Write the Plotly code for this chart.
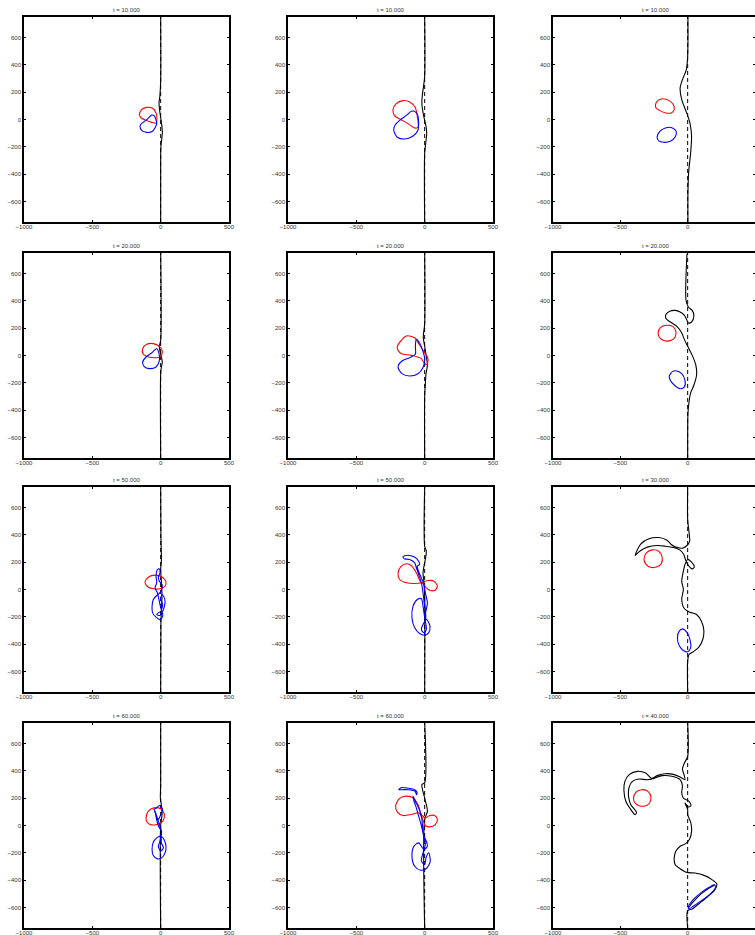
import plotly.graph_objects as go

# ---------------------------------------------------------------------------
# Contour data (x, y) for every panel: interface (black), positive vortex
# patch (red), negative vortex patch (blue).
# ---------------------------------------------------------------------------

# t = 10, left column
iface_1a = [(0, 750), (0, 280), (-6, 170), (-12, 120), (-4, 40), (6, -25), (12, -99), (2, -196), (0, -300), (0, -750)]
red_1a = [(-156, 35), (-139, 72), (-102, 89), (-59, 82), (-34, 48), (-27, 11), (-34, -26), (-66, -21), (-107, -6), (-141, 11), (-156, 35)]
blue_1a = [(-151, -50), (-139, -80), (-102, -94), (-62, -88), (-41, -60), (-29, -30), (-35, 0), (-45, 25), (-66, 33), (-85, 15), (-102, -1), (-125, -18), (-145, -35), (-151, -50)]

# t = 10, middle column
iface_1b = [(0, 750), (0, 316), (-10, 230), (-18, 170), (-20, 110), (-8, 30), (10, -50), (15, -100), (8, -170), (0, -245), (0, -750)]
red_1b = [(-232, 72), (-210, 115), (-159, 138), (-110, 128), (-70, 90), (-55, 30), (-49, -57), (-73, -62), (-122, -30), (-183, 4), (-220, 28), (-232, 72)]
blue_1b = [(-227, -74), (-200, -130), (-146, -143), (-90, -125), (-50, -80), (-44, -26), (-50, 30), (-61, 48), (-80, 62), (-98, 60), (-125, 38), (-150, 18), (-183, -6), (-215, -38), (-227, -74)]

# t = 10, right column
iface_1c = [(2, 750), (0, 462), (-10, 364), (-39, 291), (-56, 230), (-44, 145), (-7, 48), (17, -26), (29, -123), (22, -245), (7, -391), (2, -538), (2, -750)]
red_1c = [(-239, 109), (-220, 140), (-185, 152), (-141, 140), (-107, 109), (-100, 72), (-122, 48), (-161, 48), (-207, 65), (-234, 84), (-239, 109)]
blue_1c = [(-227, -128), (-207, -87), (-166, -62), (-117, -60), (-85, -87), (-93, -128), (-129, -160), (-178, -167), (-215, -157), (-227, -128)]

# t = 20, left column
iface_2a = [(0, 750), (0, 111), (-10, 62), (2, 1), (12, -48), (5, -84), (0, -133), (0, -750)]
red_2a = [(-132, 50), (-102, 82), (-54, 87), (-10, 67), (12, 33), (0, -11), (-41, -16), (-90, -11), (-127, 9), (-132, 50)]
blue_2a = [(-29, 50), (-66, 18), (-107, -11), (-132, -48), (-122, -79), (-83, -96), (-34, -84), (-10, -40), (-12, 13), (-29, 50)]

# t = 20, middle column
iface_2b = [(0, 750), (0, 233), (-10, 135), (5, 38), (20, -72), (10, -133), (5, -206), (0, -300), (0, -750)]
red_2b = [(-200, 67), (-134, 143), (-73, 130), (-44, 87), (-12, 38), (24, -23), (17, -65), (-5, -55), (-24, -23), (-98, 1), (-171, 13), (-195, 38), (-200, 67)]
blue_2b = [(-61, 118), (-37, 91), (-15, 38), (0, -23), (-10, -84), (-49, -133), (-110, -150), (-166, -133), (-195, -84), (-166, -40), (-110, -16), (-68, 9), (-68, 67), (-61, 118)]

# t = 20, right column
iface_2c = [(-5, 745), (-12, 404), (5, 355), (34, 330), (46, 287), (29, 245), (5, 238), (-7, 262), (-24, 294), (-56, 318), (-93, 330),
            (-129, 326), (-161, 301), (-161, 270), (-129, 245), (-80, 213), (-44, 165), (-24, 116), (0, 67), (34, 1), (61, -72),
            (66, -145), (46, -218), (22, -274), (10, -340), (2, -426), (0, -621), (0, -750)]
red_2c = [(-220, 165), (-202, 204), (-161, 221), (-112, 213), (-88, 179), (-93, 135), (-122, 111), (-166, 106), (-202, 123), (-220, 165)]
blue_2c = [(-137, -152), (-112, -116), (-80, -113), (-44, -133), (-20, -182), (-24, -230), (-56, -243), (-98, -218), (-129, -182), (-137, -152)]

# t = 50, left column
iface_3a = [(0, 750), (2, 400), (5, 200), (0, 150), (5, 60), (10, -50), (5, -150), (2, -250), (0, -750)]
red_3a = [(-115, 54), (-90, 90), (-41, 105), (7, 93), (37, 61), (32, 24), (-5, 5), (-54, 5), (-95, 20), (-115, 54)]
blue_3a = [(-24, 146), (-10, 151), (-5, 122), (-17, 93), (-10, 61), (10, 37), (7, 0), (-10, -29), (-29, -44), (-54, -73), (-63, -122),
           (-59, -171), (-34, -202), (-5, -220), (15, -195), (7, -159), (-17, -171), (-29, -183), (-5, -190), (20, -146), (32, -98),
           (24, -54), (10, -37), (0, -73), (15, -110), (5, -146), (-10, -85), (-24, -24), (-41, 12), (-29, 49), (-34, 98), (-29, 134), (-24, 146)]

# t = 50, middle column
iface_3b = [(0, 750), (0, 317), (12, 280), (7, 232), (-5, 171), (-12, 122), (-5, 49), (0, -49), (0, -750)]
red_3b = [(-29, 54), (-61, 122), (-98, 176), (-134, 188), (-176, 166), (-195, 117), (-183, 73), (-134, 49), (-73, 44), (-24, 49),
          (24, 66), (68, 61), (93, 24), (73, -7), (37, -5), (5, 20), (-12, 44), (-29, 54)]
blue_3b = [(-146, 224), (-159, 239), (-127, 251), (-78, 239), (-44, 207), (-37, 183), (-54, 171), (-49, 146), (-24, 85), (-5, 37),
           (5, -24), (20, -98), (12, -146), (0, -195), (24, -232), (39, -268), (29, -317), (0, -334), (-37, -322), (-73, -280),
           (-93, -207), (-85, -122), (-54, -73), (-24, -68), (-12, -122), (-5, -171), (5, -232), (12, -293), (-5, -317), (-24, -293),
           (-12, -256), (7, -220), (5, -146), (-5, -85), (-12, -24), (-24, 49), (-44, 110), (-61, 159), (-73, 195), (-110, 220), (-146, 224)]

# t = 30, right column
iface_3c = [(0, 744), (0, 512), (12, 402), (15, 354), (-5, 322), (-39, 302), (-93, 312), (-122, 329), (-154, 361), (-215, 380),
            (-288, 371), (-349, 332), (-390, 249), (-356, 280), (-300, 310), (-227, 322), (-166, 317), (-105, 307), (-56, 288),
            (-29, 256), (-15, 215), (5, 176), (34, 151), (49, 166), (29, 200), (0, 220), (-20, 183), (-32, 134), (-44, 61),
            (-32, 0), (-44, -73), (-24, -141), (17, -166), (66, -183), (102, -232), (120, -298), (112, -366), (83, -422),
            (41, -456), (10, -476), (0, -524), (0, -744)]
red_3c = [(-324, 224), (-307, 268), (-263, 290), (-215, 280), (-190, 239), (-195, 190), (-227, 166), (-276, 163), (-312, 188), (-324, 224)]
blue_3c = [(-76, -354), (-63, -305), (-39, -288), (-7, -312), (17, -366), (22, -427), (0, -456), (-32, -446), (-63, -410), (-76, -354)]

# t = 60, left column
iface_4a = [(0, 750), (0, 300), (-2, 200), (5, 150), (10, 80), (0, 0), (0, -750)]
red_4a = [(-107, 56), (-90, 105), (-49, 129), (0, 122), (27, 80), (15, 32), (-29, 7), (-78, 7), (-102, 29), (-107, 56)]
blue_4a = [(-29, 129), (-10, 146), (15, 117), (0, 80), (-17, 44), (-29, 68), (-41, 105), (-24, 20), (-10, -17), (7, -41), (-5, -78),
           (-29, -90), (-54, -122), (-63, -176), (-54, -220), (-24, -244), (7, -237), (32, -200), (39, -151), (24, -102), (7, -83),
           (5, -127), (20, -163), (0, -188), (-17, -151), (-5, -115), (7, -54), (-5, -5), (-17, 32), (-34, 80), (-49, 117), (-29, 129)]

# t = 60, middle column
iface_4b = [(0, 750), (0, 312), (-20, 300), (0, 200), (20, 105), (0, 44), (0, -750)]
red_4b = [(-24, 80), (-49, 154), (-85, 202), (-134, 215), (-183, 198), (-212, 146), (-200, 98), (-159, 73), (-98, 80), (-44, 93),
          (-12, 39), (5, 0), (37, -10), (78, 7), (93, 44), (73, 73), (37, 73), (5, 56), (-24, 80)]
blue_4b_hook = [(-190, 263), (-166, 278), (-122, 273), (-73, 261), (-55, 240), (-60, 225), (-70, 250), (-122, 262), (-170, 262), (-190, 263)]
blue_4b = [(-85, 215), (-68, 178), (-44, 129), (-24, 68), (-15, -5), (-5, -78), (12, -115), (20, -151), (-5, -176), (-44, -127),
           (-78, -151), (-93, -224), (-73, -298), (-29, -327), (12, -315), (41, -261), (29, -200), (10, -237), (0, -285), (-24, -261),
           (-12, -200), (5, -139), (-10, -66), (-24, 0), (-44, 68), (-61, 129), (-78, 178), (-85, 215)]

# t = 40, right column
iface_4c = [(0, 750), (0, 506), (-24, 457), (-39, 413), (-27, 372), (-20, 335), (-56, 355), (-105, 374), (-166, 379), (-227, 365),
            (-268, 345), (-312, 384), (-373, 396), (-434, 372), (-466, 323), (-473, 250), (-459, 177), (-422, 116), (-390, 79),
            (-380, 96), (-422, 152), (-439, 213), (-434, 282), (-410, 323), (-361, 340), (-300, 335), (-251, 345), (-190, 365),
            (-117, 360), (-56, 335), (-39, 291), (-44, 238), (-32, 201), (10, 177), (24, 145), (5, 135), (-20, 165), (0, 116),
            (0, 79), (24, 18), (29, -43), (15, -99), (-15, -133), (-56, -152), (-88, -189), (-100, -238), (-93, -287), (-56, -316),
            (-7, -343), (54, -348), (122, -365), (180, -396), (217, -428), (200, -474), (151, -518), (90, -567), (34, -611),
            (0, -623), (0, -750)]
iface_4c_fold = [(2, -606), (41, -558), (102, -498), (163, -456), (198, -437)]
red_4c = [(-402, 201), (-385, 243), (-341, 262), (-295, 250), (-273, 209), (-283, 165), (-317, 143), (-361, 145), (-395, 170), (-402, 201)]
blue_4c = [(5, -596), (41, -543), (102, -489), (163, -450), (200, -433), (205, -457), (163, -506), (102, -550), (41, -591), (10, -609), (5, -596)]

# Reference line x = 0 (dashed)
ref_line = [(0, -750), (0, 750)]

# Panel titles, row by row
titles = ["t = 10.000", "t = 10.000", "t = 10.000",
          "t = 20.000", "t = 20.000", "t = 20.000",
          "t = 50.000", "t = 50.000", "t = 30.000",
          "t = 60.000", "t = 60.000", "t = 40.000"]

x_ticks = [-1000, -500, 0, 500]
y_ticks = [-600, -400, -200, 0, 200, 400, 600]

panels = [
    ([iface_1a], [red_1a], [blue_1a]), ([iface_1b], [red_1b], [blue_1b]), ([iface_1c], [red_1c], [blue_1c]),
    ([iface_2a], [red_2a], [blue_2a]), ([iface_2b], [red_2b], [blue_2b]), ([iface_2c], [red_2c], [blue_2c]),
    ([iface_3a], [red_3a], [blue_3a]), ([iface_3b], [red_3b], [blue_3b]), ([iface_3c], [red_3c], [blue_3c]),
    ([iface_4a], [red_4a], [blue_4a]), ([iface_4b], [red_4b], [blue_4b_hook, blue_4b]),
    ([iface_4c, iface_4c_fold], [red_4c], [blue_4c]),
]

# ---------------------------------------------------------------------------
# Layout geometry (pixels); the right column runs into the page edge
# ---------------------------------------------------------------------------
W, H = 755, 935
col_px = [(24, 229), (288, 493), (553, 755)]
row_px = [(17, 222), (253, 458), (487, 692), (723, 928)]

FONT = "Liberation Sans, Arial, sans-serif"


def xy(points):
    return [p[0] for p in points], [p[1] for p in points]


fig = go.Figure()
layout = dict(
    width=W, height=H, margin=dict(l=0, r=0, t=0, b=0, autoexpand=False),
    paper_bgcolor="white", plot_bgcolor="white", showlegend=False,
    font=dict(family=FONT, size=6, color="#333333"),
)
annotations = []

for i, (ifaces, reds, blues) in enumerate(panels):
    r, c = divmod(i, 3)
    n = i + 1
    xa = "x" if n == 1 else f"x{n}"
    ya = "y" if n == 1 else f"y{n}"

    def add(points, color, width, dash=None, shape="spline"):
        x, y = xy(points)
        fig.add_trace(go.Scatter(
            x=x, y=y, mode="lines", xaxis=xa, yaxis=ya, hoverinfo="skip",
            line=dict(color=color, width=width, dash=dash, shape=shape,
                      smoothing=0.8 if shape == "spline" else None),
        ))

    add(ref_line, "black", 1, dash="4px,3px", shape="linear")
    for pts in ifaces:
        add(pts, "black", 1.1)
    for pts in reds:
        add(pts, "#ff0000", 1.1)
    for pts in blues:
        add(pts, "#0000ff", 1.1)

    x0, x1 = col_px[c]
    y0, y1 = row_px[r]
    axis_common = dict(
        showline=True, linecolor="black", linewidth=1.5, mirror="ticks",
        ticks="inside", ticklen=2, tickwidth=1, tickcolor="black",
        showgrid=False, zeroline=False, fixedrange=True, automargin=False,
        tickfont=dict(family=FONT, size=6, color="#333333"),
    )
    layout["xaxis" if n == 1 else f"xaxis{n}"] = dict(
        axis_common, domain=[x0 / W, x1 / W], range=[-1000, 500],
        tickvals=x_ticks, anchor=ya, ticklabelstandoff=-2,
    )
    layout["yaxis" if n == 1 else f"yaxis{n}"] = dict(
        axis_common, domain=[1 - y1 / H, 1 - y0 / H], range=[-750, 750],
        tickvals=y_ticks, anchor=xa,
    )
    annotations.append(dict(
        text=titles[i], xref="paper", yref="paper",
        x=(x0 + x1) / 2 / W if c < 2 else (x0 + 102.5) / W, y=1 - (y0 - 2) / H,
        xanchor="center", yanchor="bottom", showarrow=False,
        font=dict(family=FONT, size=6, color="#333333"),
    ))

layout["annotations"] = annotations
fig.update_layout(**layout)

fig.write_html("out.html")
